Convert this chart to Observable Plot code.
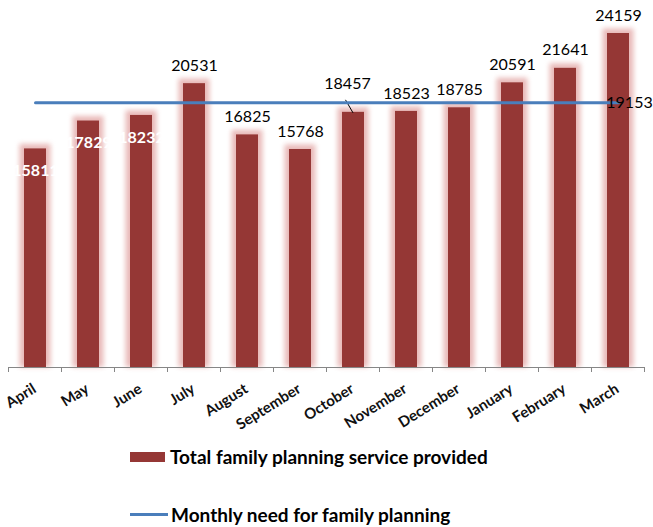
<!DOCTYPE html>
<html><head><meta charset="utf-8">
<script src="https://cdn.jsdelivr.net/npm/d3@7"></script>
<script src="https://cdn.jsdelivr.net/npm/@observablehq/plot@0.6"></script>
<style>
body{margin:0;background:#fff;font-family:Lato,sans-serif;}
#chart{position:relative;width:653px;height:527px;overflow:hidden;}
.leg{position:absolute;left:130px;display:flex;align-items:center;font-weight:bold;font-size:19px;line-height:23px;color:#000;white-space:nowrap;}
.sw{display:inline-block;width:35px;height:10px;background:#953735;margin-right:5px;}
.ln{display:inline-block;width:38px;height:3px;background:#4a7ebb;margin-right:3px;}
</style></head><body><div id="chart"></div>
<script>
const months = ["April","May","June","July","August","September","October","November","December","January","February","March"];
const provided = [15811,17829,18232,20531,16825,15768,18457,18523,18785,20591,21641,24159];
const need = [19153,19153,19153,19153,19153,19153,19153,19153,19153,19153,19153,19153];
const seriesNames = ["Total family planning service provided","Monthly need for family planning"];

const data = months.map((m,i)=>({month:m, provided:provided[i], need:need[i], i}));
const whiteLabels = data.filter(d=>d.i<3);
const leaderLabels = data.filter(d=>d.month==="October");
const normalLabels = data.filter(d=>d.i>=3 && d.month!=="October");
const lastNeed = data.filter(d=>d.i===months.length-1);

function decorations(index, scales){
  const x = scales.x, y = scales.y;
  const bw = typeof x.bandwidth === "function" ? x.bandwidth() : (x.bandwidth||0);
  const c = m => x(m) + bw/2;
  const step = c(months[1]) - c(months[0]);
  const g = d3.create("svg:g");
  const y0 = y(0);
  const bounds = months.map(m=>c(m)-step/2).concat([c(months[months.length-1])+step/2]);
  g.selectAll("line.t").data(bounds).join("line")
    .attr("x1",d=>d).attr("x2",d=>d).attr("y1",y0).attr("y2",y0+5)
    .attr("stroke","#868686");
  for (const d of leaderLabels){
    const cx = c(d.month), ty = y(d.provided);
    g.append("line").attr("x1",cx).attr("y1",ty+1).attr("x2",cx-7.5).attr("y2",ty-12)
      .attr("stroke","#000").attr("stroke-width",1);
  }
  return g.node();
}

const plot = Plot.plot({
  width:653, height:440,
  marginLeft:8, marginRight:9, marginTop:33, marginBottom:73,
  x:{domain:months, paddingInner:0.585, paddingOuter:0.2925, label:null, axis:null},
  y:{domain:[0,24159], axis:null},
  style:{fontFamily:"Lato, sans-serif", background:"white", overflow:"visible"},
  marks:[
    Plot.barY(data,{x:"month",y:"provided",fill:"#e3a9a7",insetLeft:-4.5,insetRight:-4.5,insetTop:-4.5,fillOpacity:0.8}),
    Plot.barY(data,{x:"month",y:"provided",fill:"#953735"}),
    Plot.ruleY([0],{stroke:"#868686"}),
    decorations,
    Plot.axisX({tickSize:0, tickRotate:-32, tickPadding:6, fontSize:15, fontWeight:"bold", fill:"#111", dx:-1, dy:14, label:null}),
    Plot.lineY(data,{x:"month",y:"need",stroke:"#4a7ebb",strokeWidth:3}),
    Plot.text(normalLabels,{x:"month",y:"provided",text:d=>String(d.provided),dy:-18,fontSize:16,fill:"#000"}),
    Plot.text(leaderLabels,{x:"month",y:"provided",text:d=>String(d.provided),dy:-28,dx:-6,fontSize:16,fill:"#000"}),
    Plot.text(whiteLabels,{x:"month",y:"provided",text:d=>String(d.provided),dy:22,fontSize:16,fontWeight:"bold",fill:"#fff"}),
    Plot.text(lastNeed,{x:"month",y:"need",text:d=>String(d.need),dx:11,fontSize:16,fill:"#000"})
  ]
});
const chart = document.getElementById("chart");
chart.appendChild(plot);
d3.select(plot).select('g[aria-label="bar"]').style("filter","blur(2.5px)");

const l1 = document.createElement("div");
l1.className="leg"; l1.style.top="445px";
l1.innerHTML='<span class="sw"></span>'+seriesNames[0];
const l2 = document.createElement("div");
l2.className="leg"; l2.style.top="503px";
l2.innerHTML='<span class="ln"></span>'+seriesNames[1];
chart.appendChild(l1); chart.appendChild(l2);
</script></body></html>
